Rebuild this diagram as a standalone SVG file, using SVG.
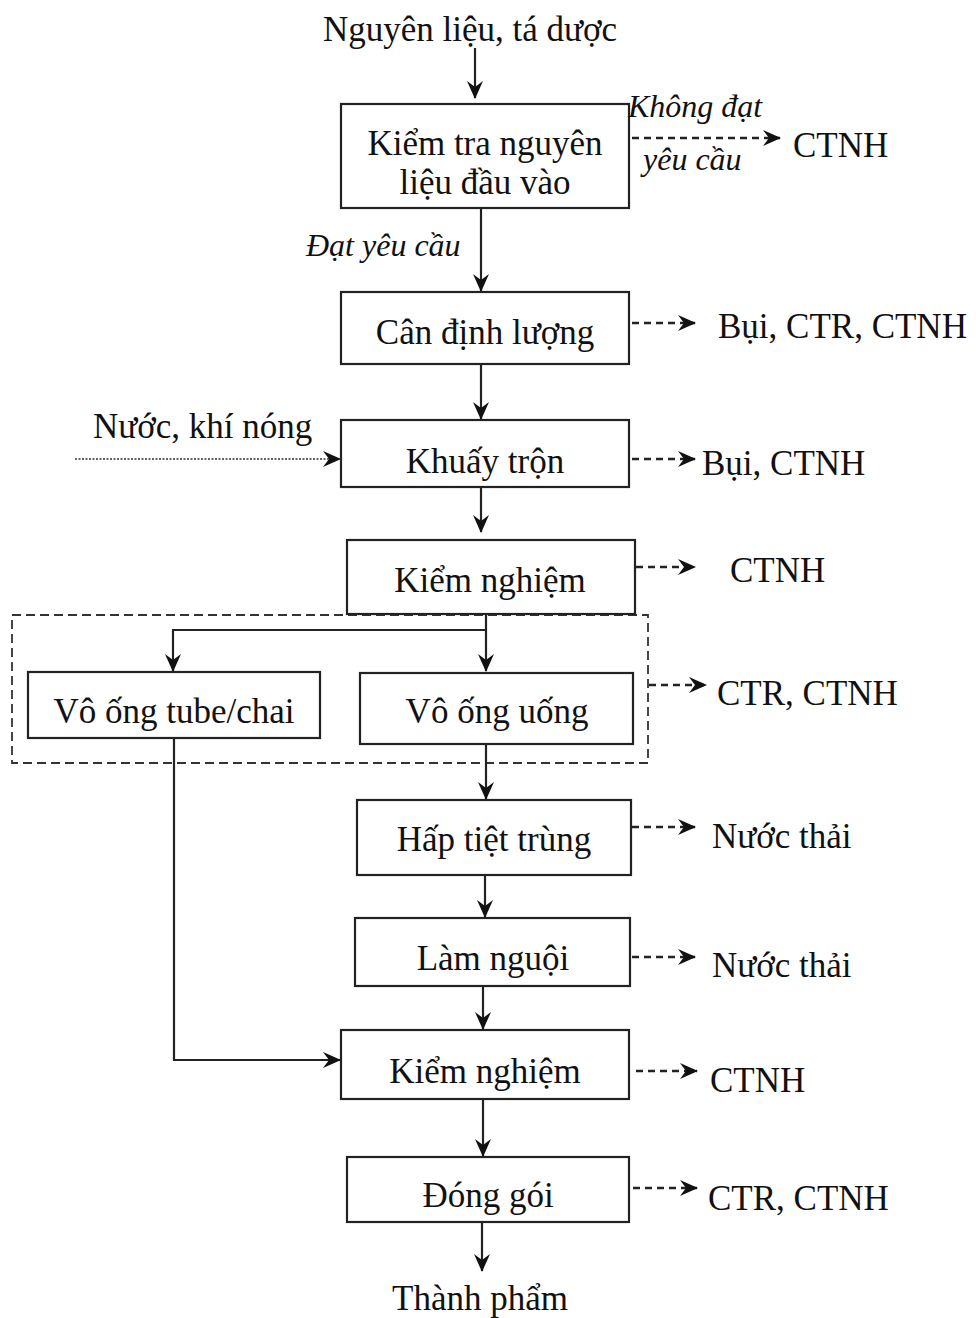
<svg xmlns="http://www.w3.org/2000/svg" width="976" height="1318" viewBox="0 0 976 1318">
<style>
text{font-family:"Liberation Serif","Times New Roman",serif;fill:#111;font-size:35px}
.c{text-anchor:middle}
.it{font-style:italic;font-size:32px}
.box{fill:#fff;stroke:#222;stroke-width:2.2}
.ln{fill:none;stroke:#222;stroke-width:2.2}
.ds{fill:none;stroke:#222;stroke-width:2.4;stroke-dasharray:7 5}
.dt{fill:none;stroke:#333;stroke-width:1.6;stroke-dasharray:2 1.5}
.grp{fill:none;stroke:#333;stroke-width:1.8;stroke-dasharray:9 5}
</style>
<defs>
<marker id="ah" viewBox="0 0 18 18" refX="17" refY="9" markerWidth="18" markerHeight="18" markerUnits="userSpaceOnUse" orient="auto">
<path d="M0,1 L18,9 L0,17 L6,9 Z" fill="#111"/>
</marker>
</defs>
<g id="group-box"><rect class="grp" x="12" y="615" width="636" height="148"/></g>
<g id="connectors">
<line class="ln" x1="475" y1="48" x2="475" y2="98" marker-end="url(#ah)"/>
<line class="ln" x1="481" y1="208" x2="481" y2="291" marker-end="url(#ah)"/>
<line class="ln" x1="481" y1="364" x2="481" y2="419" marker-end="url(#ah)"/>
<line class="ln" x1="481" y1="487" x2="481" y2="532" marker-end="url(#ah)"/>
<line class="ln" x1="486" y1="614" x2="486" y2="671" marker-end="url(#ah)"/>
<path class="ln" d="M485,630 H173 V671" marker-end="url(#ah)"/>
<line class="ln" x1="486" y1="744" x2="486" y2="799" marker-end="url(#ah)"/>
<path class="ln" d="M174,738 V1060 H340" marker-end="url(#ah)"/>
<line class="ln" x1="485" y1="875" x2="485" y2="917" marker-end="url(#ah)"/>
<line class="ln" x1="483" y1="986" x2="483" y2="1029" marker-end="url(#ah)"/>
<line class="ln" x1="483" y1="1099" x2="483" y2="1156" marker-end="url(#ah)"/>
<line class="ln" x1="482" y1="1222" x2="482" y2="1271" marker-end="url(#ah)"/>
<line class="dt" x1="75" y1="459" x2="340" y2="459" marker-end="url(#ah)"/>
<line class="ds" x1="620" y1="138" x2="780" y2="138" marker-end="url(#ah)"/>
<line class="ds" x1="632" y1="323" x2="695" y2="323" marker-end="url(#ah)"/>
<line class="ds" x1="632" y1="459" x2="695" y2="459" marker-end="url(#ah)"/>
<line class="ds" x1="636" y1="567" x2="695" y2="567" marker-end="url(#ah)"/>
<line class="ds" x1="649" y1="685" x2="706" y2="685" marker-end="url(#ah)"/>
<line class="ds" x1="632" y1="827" x2="695" y2="827" marker-end="url(#ah)"/>
<line class="ds" x1="632" y1="957" x2="695" y2="957" marker-end="url(#ah)"/>
<line class="ds" x1="636" y1="1071" x2="697" y2="1071" marker-end="url(#ah)"/>
<line class="ds" x1="633" y1="1188" x2="697" y2="1188" marker-end="url(#ah)"/>
</g>
<g id="input"><text class="c" x="470" y="41">Nguyên liệu, tá dược</text></g>
<g id="n1"><rect class="box" x="341" y="104" width="288" height="104"/><text class="c" x="485" y="155">Kiểm tra nguyên</text><text class="c" x="485" y="194">liệu đầu vào</text></g>
<g id="lbl-fail"><text class="it" x="628" y="117">Không đạt</text><text class="it" x="643" y="170">yêu cầu</text><text x="793" y="157">CTNH</text></g>
<g id="lbl-pass"><text class="it" x="306" y="256">Đạt yêu cầu</text></g>
<g id="n2"><rect class="box" x="341" y="292" width="288" height="72"/><text class="c" x="485" y="344">Cân định lượng</text><text x="718" y="338">Bụi, CTR, CTNH</text></g>
<g id="n3"><rect class="box" x="341" y="420" width="288" height="67"/><text class="c" x="485" y="473">Khuấy trộn</text><text x="93" y="438">Nước, khí nóng</text><text x="702" y="475">Bụi, CTNH</text></g>
<g id="n4"><rect class="box" x="347" y="540" width="288" height="74"/><text class="c" x="490" y="592">Kiểm nghiệm</text><text x="730" y="582">CTNH</text></g>
<g id="n5"><rect class="box" x="28" y="672" width="292" height="66"/><text class="c" x="174" y="723">Vô ống tube/chai</text></g>
<g id="n6"><rect class="box" x="360" y="673" width="273" height="71"/><text class="c" x="497" y="723">Vô ống uống</text><text x="717" y="705">CTR, CTNH</text></g>
<g id="n7"><rect class="box" x="357" y="800" width="274" height="75"/><text class="c" x="494" y="851">Hấp tiệt trùng</text><text x="712" y="848">Nước thải</text></g>
<g id="n8"><rect class="box" x="355" y="918" width="275" height="68"/><text class="c" x="493" y="970">Làm nguội</text><text x="712" y="977">Nước thải</text></g>
<g id="n9"><rect class="box" x="341" y="1030" width="288" height="69"/><text class="c" x="485" y="1083">Kiểm nghiệm</text><text x="710" y="1092">CTNH</text></g>
<g id="n10"><rect class="box" x="347" y="1157" width="282" height="65"/><text class="c" x="488" y="1207">Đóng gói</text><text x="708" y="1210">CTR, CTNH</text></g>
<g id="output"><text class="c" x="480" y="1310">Thành phẩm</text></g>
</svg>
